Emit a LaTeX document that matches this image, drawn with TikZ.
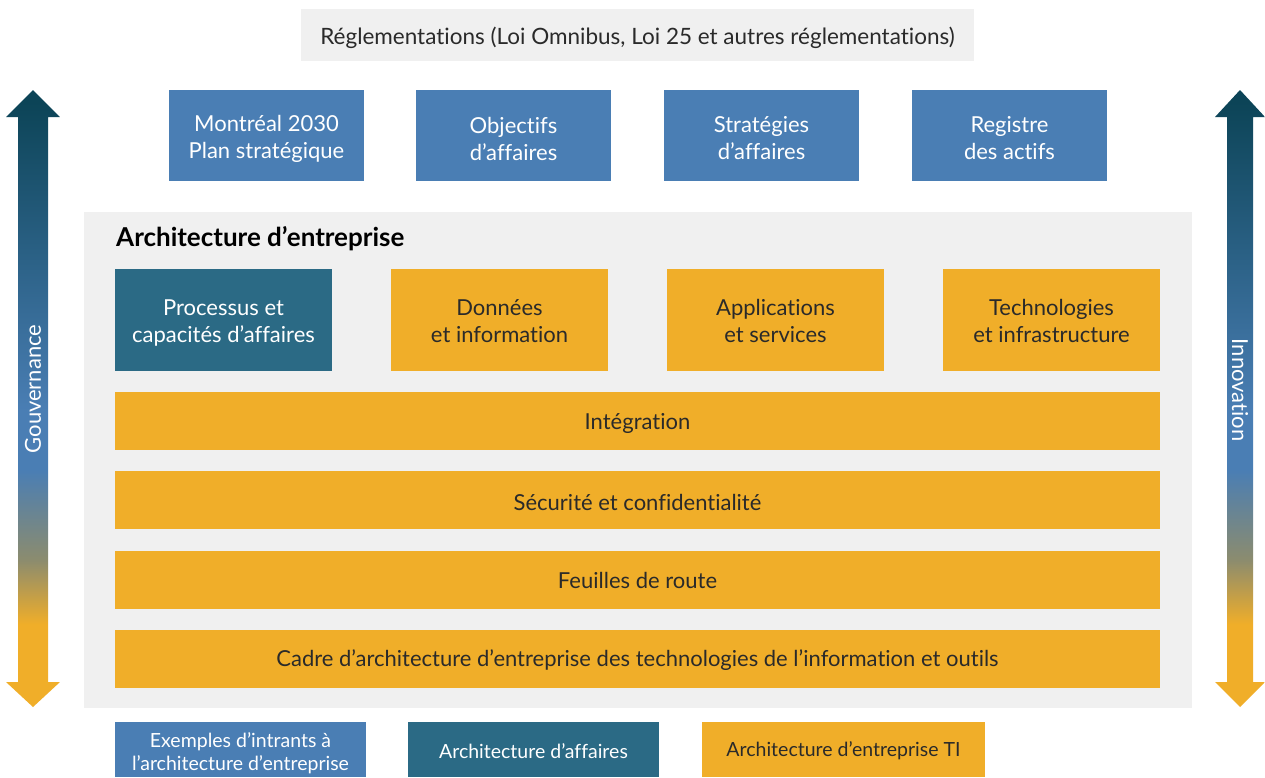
\documentclass[tikz,border=0pt]{standalone}
\usepackage{fontspec}
\setmainfont{Lato}[Ligatures={NoCommon,NoRare,NoContextual}]
\definecolor{dteal}{HTML}{0C4457}
\definecolor{mblue}{HTML}{4A7EB4}
\definecolor{gteal}{HTML}{2B6A85}
\definecolor{gold}{HTML}{F0AE29}
\definecolor{olive}{HTML}{8C8C6E}
\definecolor{panel}{HTML}{F0F0F0}
\definecolor{dtext}{HTML}{2A2A2A}
\pgfdeclareverticalshading{govshade}{100bp}{color(0bp)=(gold); color(31.7bp)=(gold); color(36.9bp)=(olive); color(44.2bp)=(mblue); color(49bp)=(mblue); color(74bp)=(dteal); color(100bp)=(dteal)}
\tikzset{
  base/.style={inner sep=0pt, align=center, font=\fontsize{22}{27}\selectfont},
  bluebox/.style={inner sep=0pt, fill=mblue},
  tealbox/.style={inner sep=0pt, fill=gteal},
  goldbox/.style={inner sep=0pt, fill=gold},
  wtxt/.style={base, text=white},
  dtxt/.style={base, text=dtext},
  lgtxt/.style={inner sep=0pt, align=center, font=\fontsize{19.5}{23}\selectfont},
}
\begin{document}
\begin{tikzpicture}[x=1pt,y=-1pt]
\useasboundingbox (0,0) rectangle (1265,777);
\fill[white] (0,0) rectangle (1265,777);
% top regulation box
\node[inner sep=0pt, fill=panel, minimum width=673pt, minimum height=52pt] (reg) at (637.5,35) {};
\node[dtxt, font=\fontsize{22.5}{26}\selectfont] (regt) at ([yshift=-2.5pt]reg.center) {Réglementations (Loi Omnibus, Loi 25 et autres réglementations)};
% top boxes
\node[bluebox, minimum width=195pt, minimum height=91pt] (mtl) at (266.5,135.5) {};
\node[wtxt] (mtlt) at ([yshift=-3pt]mtl.center) {Montréal 2030\\Plan stratégique};
\node[bluebox, minimum width=195pt, minimum height=91pt] (obj) at (513.5,135.5) {};
\node[wtxt] (objt) at ([yshift=-3pt]obj.center) {Objectifs\\d’affaires};
\node[bluebox, minimum width=195pt, minimum height=91pt] (strat) at (761.5,135.5) {};
\node[wtxt] (stratt) at ([yshift=-3pt]strat.center) {Stratégies\\d’affaires};
\node[bluebox, minimum width=195pt, minimum height=91pt] (regact) at (1009.5,135.5) {};
\node[wtxt] (regactt) at ([yshift=-3pt]regact.center) {Registre\\des actifs};
% panel
\fill[panel] (84,212) rectangle (1192,708);
\node[anchor=base west, inner sep=0pt, font=\fontsize{26}{30}\selectfont\bfseries] (title) at (116,246) {Architecture d’entreprise};
% row boxes
\node[tealbox, minimum width=217pt, minimum height=102pt] (proc) at (223.5,320) {};
\node[wtxt] (proct) at ([yshift=-2.5pt]proc.center) {Processus et\\capacités d’affaires};
\node[goldbox, minimum width=217pt, minimum height=102pt] (don) at (499.5,320) {};
\node[dtxt] (dont) at ([yshift=-1pt]don.center) {Données\\et information};
\node[goldbox, minimum width=217pt, minimum height=102pt] (app) at (775.5,320) {};
\node[dtxt] (appt) at ([yshift=-1pt]app.center) {Applications\\et services};
\node[goldbox, minimum width=217pt, minimum height=102pt] (tech) at (1051.5,320) {};
\node[dtxt] (techt) at ([yshift=-1pt]tech.center) {Technologies\\et infrastructure};
% bars
\node[goldbox, minimum width=1045pt, minimum height=58pt] (integ) at (637.5,421) {};
\node[dtxt] (integt) at ([yshift=-2pt]integ.center) {Intégration};
\node[goldbox, minimum width=1045pt, minimum height=58pt] (secu) at (637.5,500) {};
\node[dtxt] (secut) at ([yshift=-2pt]secu.center) {Sécurité et confidentialité};
\node[goldbox, minimum width=1045pt, minimum height=58pt] (feuil) at (637.5,580) {};
\node[dtxt] (feuilt) at ([yshift=0pt]feuil.center) {Feuilles de route};
\node[goldbox, minimum width=1045pt, minimum height=58pt] (cadre) at (637.5,659) {};
\node[dtxt] (cadret) at ([yshift=-1pt]cadre.center) {Cadre d’architecture d’entreprise des technologies de l’information et outils};
% legend
\node[bluebox, minimum width=251pt, minimum height=55pt] (lg1) at (240.5,749.5) {};
\node[lgtxt, text=white] (lg1t) at ([yshift=-3.5pt]lg1.center) {Exemples d’intrants à\\l’architecture d’entreprise};
\node[tealbox, minimum width=251pt, minimum height=55pt] (lg2) at (533.5,749.5) {};
\node[lgtxt, text=white] (lg2t) at ([yshift=-1.5pt]lg2.center) {Architecture d’affaires};
\node[goldbox, minimum width=283pt, minimum height=55pt] (lg3) at (843.5,749.5) {};
\node[lgtxt, text=dtext] (lg3t) at ([yshift=-1.5pt]lg3.center) {Architecture d’entreprise TI};
% arrows
\shade[shading=govshade] (33,90) -- (60,117) -- (48,117) -- (48,682) -- (60,682) -- (33,707) -- (6,682) -- (18,682) -- (18,117) -- (6,117) -- cycle;
\shade[shading=govshade] (1240,90) -- (1265,117) -- (1253,117) -- (1253,682) -- (1265,682) -- (1240,707) -- (1215,682) -- (1227,682) -- (1227,117) -- (1215,117) -- cycle;
\node[rotate=90, text=white, font=\fontsize{22}{26}\selectfont, inner sep=0pt] (gov) at (33,389) {Gouvernance};
\node[rotate=-90, text=white, font=\fontsize{22}{26}\selectfont, inner sep=0pt] (innov) at (1240,390) {Innovation};
\end{tikzpicture}
\end{document}
